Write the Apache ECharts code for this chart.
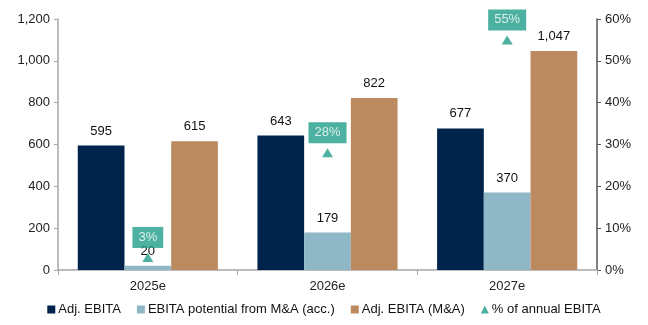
<!DOCTYPE html>
<html>
<head>
<meta charset="utf-8">
<script src="https://cdn.jsdelivr.net/npm/echarts@6/dist/echarts.min.js"></script>
<style>
  html, body { margin: 0; padding: 0; background: #fff; }
  #chart { width: 648px; height: 325px; }
</style>
</head>
<body>
<div id="chart"></div>
<script>
// EBITA outlook by year, with M&A uplift and share of annual EBITA
const categories = ['2025e', '2026e', '2027e'];
const adjEbita = [595, 643, 677];
const maPotential = [20, 179, 370];
const adjEbitaMA = [615, 822, 1047];
const pctOfAnnual = [3, 28, 55];

const FONT = 'Liberation Sans, Arial, sans-serif';
const TEAL = '#1f9e88';
const AXIS_GREY = '#a6a6a6';

const chart = echarts.init(document.getElementById('chart'));

const barLabel = {
  show: true,
  position: 'top',
  distance: 8,
  color: '#111',
  fontSize: 13,
  fontFamily: FONT,
  formatter: p => p.value.toLocaleString('en-US')
};

chart.setOption({
  animation: false,
  textStyle: { fontFamily: FONT },
  grid: { left: 58, right: 51, top: 19, bottom: 55, containLabel: false },
  legend: {
    bottom: 4,
    left: 'center',
    itemWidth: 8,
    itemHeight: 8,
    itemGap: 16,
    textStyle: { fontSize: 13, color: '#111', fontFamily: FONT, padding: [0, 0, 0, -2] },
    data: [
      { name: 'Adj. EBITA', icon: 'rect' },
      { name: 'EBITA potential from M&A (acc.)', icon: 'rect' },
      { name: 'Adj. EBITA (M&A)', icon: 'rect' },
      { name: '% of annual EBITA', icon: 'triangle' }
    ]
  },
  xAxis: {
    type: 'category',
    data: categories,
    axisLine: { lineStyle: { color: AXIS_GREY, width: 1.5 } },
    axisTick: { show: true, alignWithLabel: false, length: 5, lineStyle: { color: AXIS_GREY } },
    axisLabel: { color: '#222', fontSize: 13, margin: 10, fontFamily: FONT }
  },
  yAxis: [
    {
      type: 'value',
      min: 0, max: 1200, interval: 200,
      axisLine: { show: true, lineStyle: { color: AXIS_GREY, width: 1.5 } },
      axisTick: { show: true, length: 4, lineStyle: { color: AXIS_GREY } },
      splitLine: { show: false },
      axisLabel: {
        color: '#222', fontSize: 13, margin: 8, fontFamily: FONT,
        formatter: v => v.toLocaleString('en-US')
      }
    },
    {
      type: 'value',
      min: 0, max: 60, interval: 10,
      position: 'right',
      axisLine: { show: true, lineStyle: { color: '#555', width: 1.5 } },
      axisTick: { show: true, length: 4, lineStyle: { color: '#555' } },
      splitLine: { show: false },
      axisLabel: { color: '#222', fontSize: 13, margin: 8, fontFamily: FONT, formatter: '{value}%' }
    }
  ],
  series: [
    {
      name: 'Adj. EBITA',
      type: 'bar',
      data: adjEbita,
      barGap: '0%',
      barCategoryGap: '22%',
      itemStyle: { color: '#00234b' },
      label: barLabel
    },
    {
      name: 'EBITA potential from M&A (acc.)',
      type: 'bar',
      data: maPotential,
      itemStyle: { color: '#8fb8c7' },
      label: barLabel
    },
    {
      name: 'Adj. EBITA (M&A)',
      type: 'bar',
      data: adjEbitaMA,
      itemStyle: { color: '#bc8a5f' },
      label: barLabel
    },
    {
      name: '% of annual EBITA',
      type: 'scatter',
      yAxisIndex: 1,
      data: pctOfAnnual,
      symbol: 'triangle',
      symbolSize: [11, 9],
      itemStyle: { color: TEAL },
      z: 5,
      label: {
        show: true,
        position: 'top',
        distance: 5,
        color: '#fff',
        fontSize: 13,
        fontFamily: FONT,
        backgroundColor: TEAL,
        padding: [4, 6, 4, 6],
        formatter: p => p.value + '%'
      }
    }
  ]
});
</script>
</body>
</html>
